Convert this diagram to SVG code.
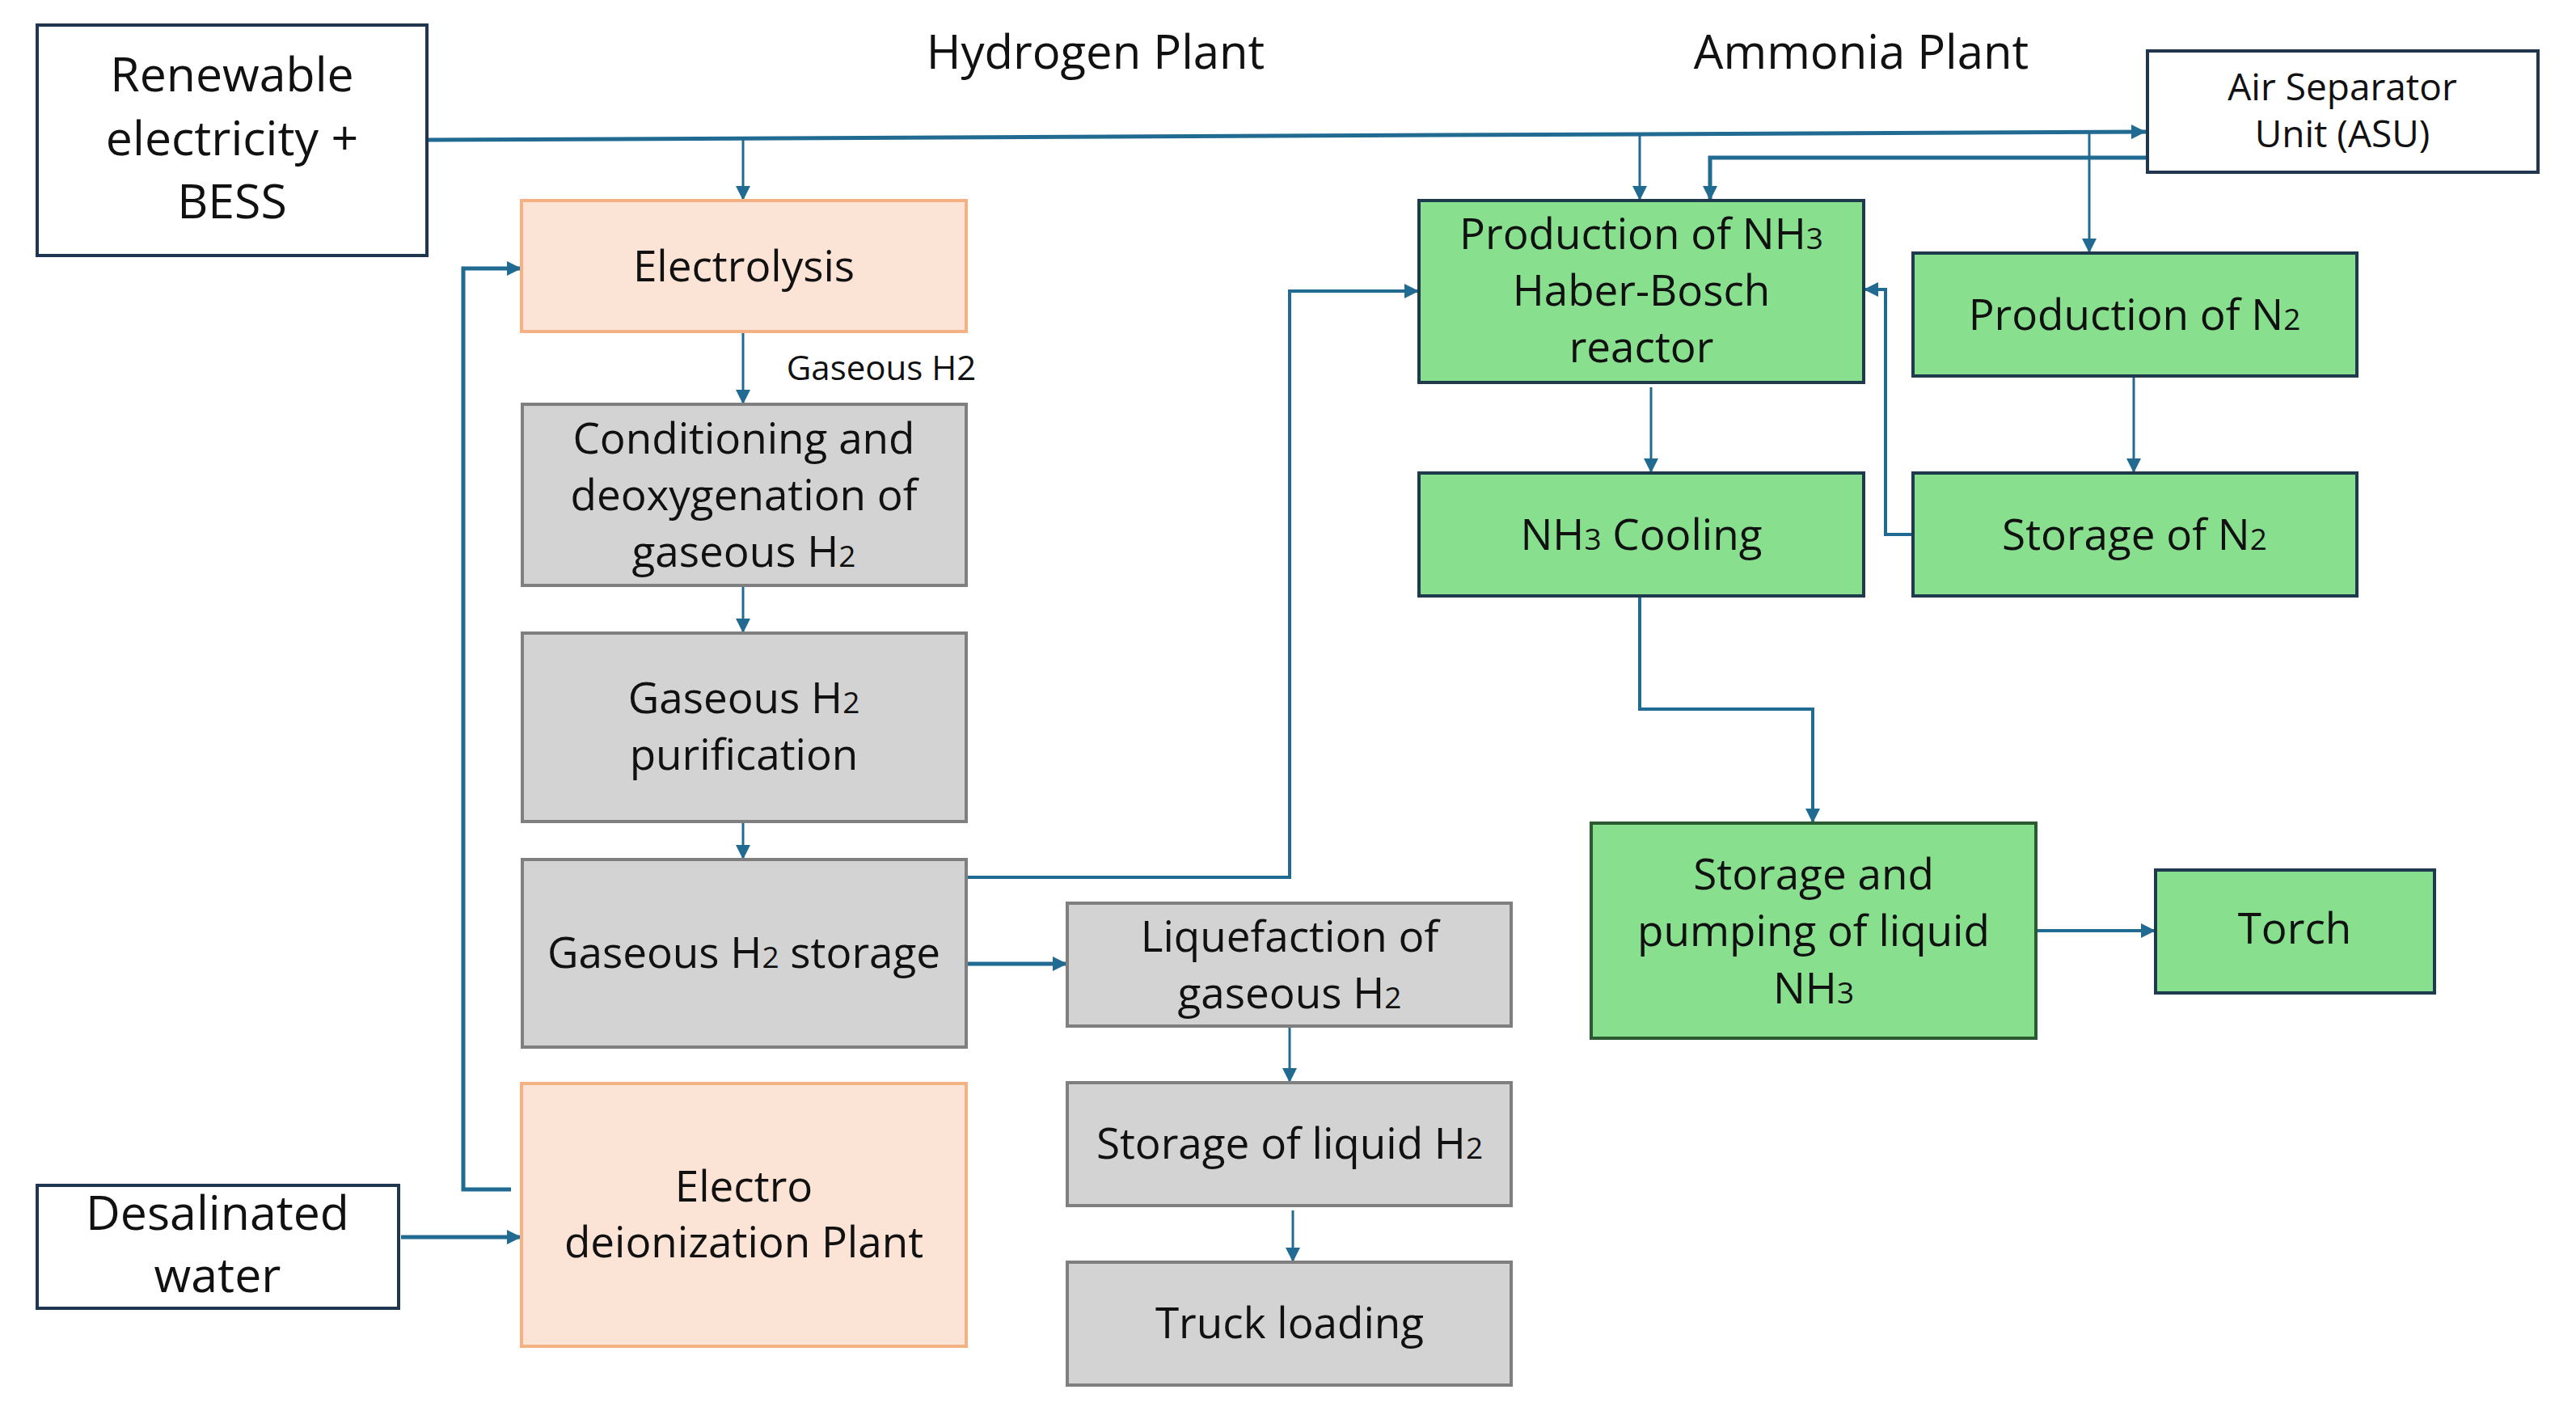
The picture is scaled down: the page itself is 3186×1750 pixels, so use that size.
<svg xmlns="http://www.w3.org/2000/svg" width="3186" height="1750" viewBox="0 0 3186 1750">
<style>
.t{font-family:"Open Sans","Liberation Sans",sans-serif;fill:#111;text-anchor:middle}
.n{font-size:53px}
.wb{fill:#fff;stroke:#1f3550;stroke-width:4}
.pe{fill:#fbe3d6;stroke:#f4b183;stroke-width:4}
.gr{fill:#d3d3d3;stroke:#7f7f7f;stroke-width:4}
.gn{fill:#88e08f;stroke:#1e3a4c;stroke-width:4}
.c{fill:none;stroke:#216b92;stroke-linejoin:miter}
.s{font-size:37px}
</style>
<defs>
<marker id="ah" markerUnits="userSpaceOnUse" viewBox="0 0 10 10" markerWidth="19" markerHeight="18" refX="10" refY="5" orient="auto">
<path d="M0,0 L10,5 L0,10 z" fill="#216b92"/>
</marker>
</defs>
<rect width="3186" height="1750" fill="#fff"/>

<g id="connectors">
<path class="c" stroke-width="5" d="M528,173 L2654,163" marker-end="url(#ah)"/>
<path class="c" stroke-width="3" d="M919,172 L919,248" marker-end="url(#ah)"/>
<path class="c" stroke-width="3" d="M919,410 L919,500" marker-end="url(#ah)"/>
<path class="c" stroke-width="3" d="M919,724 L919,783" marker-end="url(#ah)"/>
<path class="c" stroke-width="3" d="M919,1016 L919,1063" marker-end="url(#ah)"/>
<path class="c" stroke-width="5" d="M632,1471 L573,1471 L573,332 L645,332" marker-end="url(#ah)"/>
<path class="c" stroke-width="5" d="M496,1530 L645,1530" marker-end="url(#ah)"/>
<path class="c" stroke-width="5" d="M1195,1192 L1320,1192" marker-end="url(#ah)"/>
<path class="c" stroke-width="4" d="M1195,1085 L1595,1085 L1595,360 L1755,360" marker-end="url(#ah)"/>
<path class="c" stroke-width="3" d="M1595,1269 L1595,1339" marker-end="url(#ah)"/>
<path class="c" stroke-width="3" d="M1599,1497 L1599,1561" marker-end="url(#ah)"/>
<path class="c" stroke-width="3" d="M2028,164 L2028,248" marker-end="url(#ah)"/>
<path class="c" stroke-width="5" d="M2656,195 L2115,195 L2115,248" marker-end="url(#ah)"/>
<path class="c" stroke-width="3" d="M2584,163 L2584,313" marker-end="url(#ah)"/>
<path class="c" stroke-width="3" d="M2042,479 L2042,585" marker-end="url(#ah)"/>
<path class="c" stroke-width="3" d="M2639,465 L2639,585" marker-end="url(#ah)"/>
<path class="c" stroke-width="4" d="M2366,661 L2332,661 L2332,358 L2305,358" marker-end="url(#ah)"/>
<path class="c" stroke-width="4" d="M2028,737 L2028,877 L2242,877 L2242,1018" marker-end="url(#ah)"/>
<path class="c" stroke-width="4" d="M2518,1151 L2666,1151" marker-end="url(#ah)"/>
<text class="t" x="1090" y="470" font-size="42">Gaseous H2</text>
</g>

<g id="titles">
<text class="t" x="1355" y="85" font-size="58">Hydrogen Plant</text>
<text class="t" x="2302" y="85" font-size="58">Ammonia Plant</text>
</g>

<g id="renewable">
<rect class="wb" x="46" y="31" width="482" height="285"/>
<text class="t" font-size="59" x="287" y="113">Renewable</text>
<text class="t" font-size="59" x="287" y="192">electricity +</text>
<text class="t" font-size="59" x="287" y="270">BESS</text>
</g>

<g id="asu">
<rect class="wb" x="2656" y="63" width="483" height="150"/>
<text class="t" font-size="46" x="2897" y="124">Air Separator</text>
<text class="t" font-size="46" x="2897" y="182">Unit (ASU)</text>
</g>

<g id="electrolysis">
<rect class="pe" x="645" y="248" width="550" height="162"/>
<text class="t n" x="920" y="348">Electrolysis</text>
</g>

<g id="conditioning">
<rect class="gr" x="646" y="500" width="549" height="224"/>
<text class="t n" x="920" y="561">Conditioning and</text>
<text class="t n" x="920" y="631">deoxygenation of</text>
<text class="t n" x="920" y="701">gaseous H<tspan class="s">2</tspan></text>
</g>

<g id="purification">
<rect class="gr" x="646" y="783" width="549" height="233"/>
<text class="t n" x="920" y="882">Gaseous H<tspan class="s">2</tspan></text>
<text class="t n" x="920" y="952">purification</text>
</g>

<g id="h2storage">
<rect class="gr" x="646" y="1063" width="549" height="232"/>
<text class="t n" x="920" y="1197">Gaseous H<tspan class="s">2</tspan> storage</text>
</g>

<g id="edi">
<rect class="pe" x="645" y="1340" width="550" height="325"/>
<text class="t n" x="920" y="1486">Electro</text>
<text class="t n" x="920" y="1555">deionization Plant</text>
</g>

<g id="desalinated">
<rect class="wb" x="46" y="1466" width="447" height="152"/>
<text class="t" font-size="59" x="269" y="1521">Desalinated</text>
<text class="t" font-size="59" x="269" y="1598">water</text>
</g>

<g id="liquefaction">
<rect class="gr" x="1320" y="1117" width="549" height="152"/>
<text class="t n" x="1595" y="1177">Liquefaction of</text>
<text class="t n" x="1595" y="1247">gaseous H<tspan class="s">2</tspan></text>
</g>

<g id="liquidstorage">
<rect class="gr" x="1320" y="1339" width="549" height="152"/>
<text class="t n" x="1595" y="1433">Storage of liquid H<tspan class="s">2</tspan></text>
</g>

<g id="truck">
<rect class="gr" x="1320" y="1561" width="549" height="152"/>
<text class="t n" x="1595" y="1655">Truck loading</text>
</g>

<g id="nh3production">
<rect class="gn" x="1755" y="248" width="550" height="225"/>
<text class="t n" x="2030" y="308">Production of NH<tspan class="s">3</tspan></text>
<text class="t n" x="2030" y="378">Haber-Bosch</text>
<text class="t n" x="2030" y="448">reactor</text>
</g>

<g id="n2production">
<rect class="gn" x="2366" y="313" width="549" height="152"/>
<text class="t n" x="2640" y="408">Production of N<tspan class="s">2</tspan></text>
</g>

<g id="nh3cooling">
<rect class="gn" x="1755" y="585" width="550" height="152"/>
<text class="t n" x="2030" y="680">NH<tspan class="s">3</tspan> Cooling</text>
</g>

<g id="n2storage">
<rect class="gn" x="2366" y="585" width="549" height="152"/>
<text class="t n" x="2640" y="680">Storage of N<tspan class="s">2</tspan></text>
</g>

<g id="nh3storage">
<rect class="gn" x="1968" y="1018" width="550" height="266" style="stroke:#2b5a32"/>
<text class="t n" x="2243" y="1100">Storage and</text>
<text class="t n" x="2243" y="1170">pumping of liquid</text>
<text class="t n" x="2243" y="1241">NH<tspan class="s">3</tspan></text>
</g>

<g id="torch">
<rect class="gn" x="2666" y="1076" width="345" height="152"/>
<text class="t n" x="2838" y="1167">Torch</text>
</g>
</svg>
